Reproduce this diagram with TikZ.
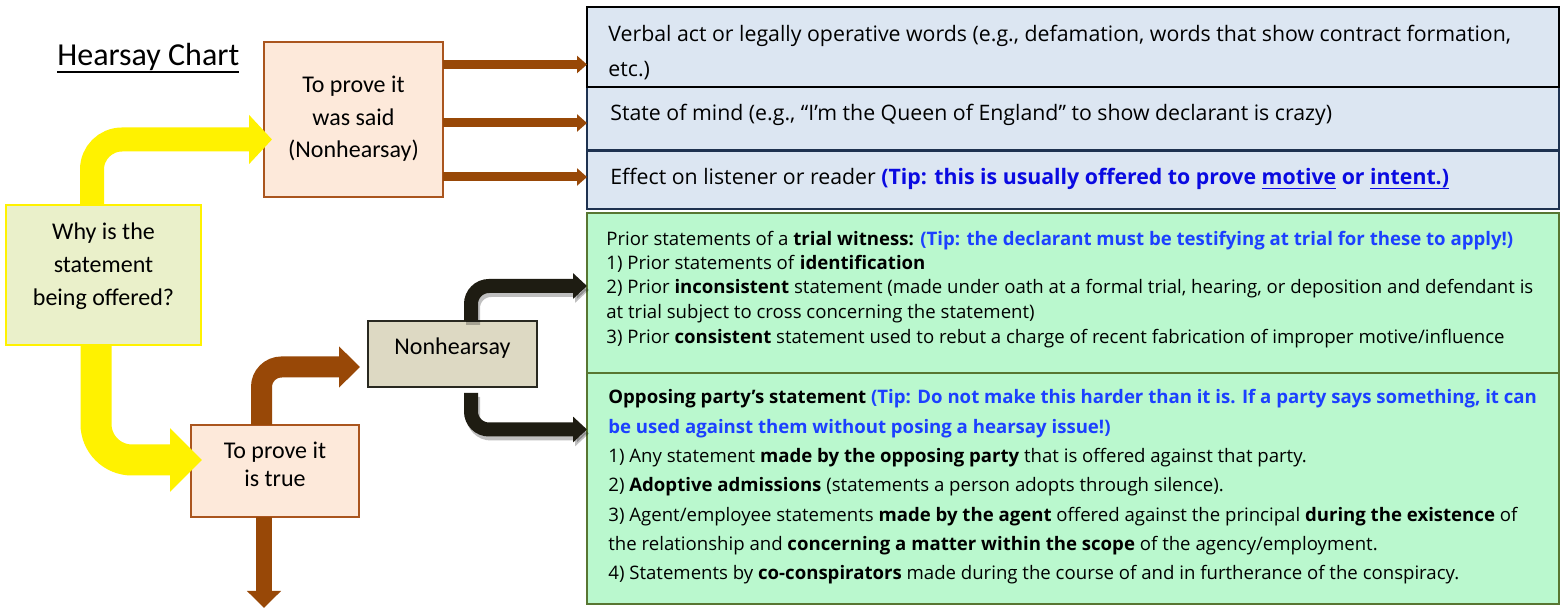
\documentclass[tikz,border=0pt]{standalone}
\usepackage{fontspec}
\setmainfont{Open Sans}
\newfontfamily\calfont{Carlito}
\usetikzlibrary{arrows.meta}
\definecolor{bluefill}{RGB}{220,230,242}
\definecolor{navyline}{RGB}{30,50,80}
\definecolor{greenfill}{RGB}{186,248,206}
\definecolor{greenline}{RGB}{88,118,50}
\definecolor{whyfill}{RGB}{234,240,202}
\definecolor{peachfill}{RGB}{253,233,218}
\definecolor{peachline}{RGB}{170,85,30}
\definecolor{brownarrow}{RGB}{152,72,7}
\definecolor{nhfill}{RGB}{221,217,195}
\definecolor{nhline}{RGB}{40,40,32}
\definecolor{blackarrow}{RGB}{30,28,18}
\definecolor{tipA}{RGB}{10,10,225}
\definecolor{tipB}{RGB}{28,64,255}
\newcommand{\myul}[3]{\leavevmode\setbox0=\hbox{#3}\rlap{\rule[-#1]{\wd0}{#2}}\box0\relax}
\newcommand{\fA}{\fontsize{10.65}{12}\selectfont}
\newcommand{\fB}{\fontsize{9.3}{11}\selectfont}
\newcommand{\fC}{\fontsize{9.3}{11}\selectfont}
\newcommand{\fK}{\calfont\fontsize{12}{14}\selectfont}
\begin{document}
\begin{tikzpicture}[x=0.5pt,y=-0.5pt,
  box/.style={rectangle, inner sep=0pt, outer sep=0pt},
  bluebox/.style={box, fill=bluefill, draw=navyline, line width=1pt},
  greenbox/.style={box, fill=greenfill, draw=greenline, line width=1.1pt},
  peachbox/.style={box, fill=peachfill, draw=peachline, line width=1pt},
  line/.style={inner sep=0pt, anchor=base west},
  cline/.style={inner sep=0pt, anchor=base, font=\fK},
  yarrow/.style={draw=yellow, rounded corners=15pt},
  brarrow/.style={draw=brownarrow},
  bkarrow/.style={draw=blackarrow, rounded corners=9pt},
  bkshadow/.style={draw=black, opacity=0.25, rounded corners=9pt, transform canvas={shift={(1pt,-2pt)}}}
]
\useasboundingbox (0,0) rectangle (1560,608);
\fill[white] (0,0) rectangle (1560,608);

% title
\node[inner sep=0pt, anchor=base west, font=\calfont\fontsize{16}{18}\selectfont] (title) at (57,66) {\myul{3.6pt}{1.25pt}{Hearsay Chart}};

% right boxes
\node[bluebox, minimum width=486pt, minimum height=31.5pt] (b2) at (1073,118.5) {};
\node[bluebox, minimum width=486pt, minimum height=29pt] (b3) at (1073,180) {};
\node[bluebox, draw=black, line width=1.4pt, minimum width=486pt, minimum height=40pt] (b1) at (1073,47) {};
\node[greenbox, minimum width=486pt, minimum height=80pt] (g1) at (1073,293) {};
\node[greenbox, minimum width=486pt, minimum height=115.5pt] (g2) at (1073,488.5) {};

% left boxes
\node[box, fill=whyfill, draw=yellow, line width=1.1pt, minimum width=97.5pt, minimum height=70pt] (why) at (103.5,275) {};
\node[peachbox, minimum width=89.5pt, minimum height=77.5pt] (said) at (353.5,119.5) {};
\node[peachbox, minimum width=84pt, minimum height=46pt] (true) at (275,471) {};
\node[box, fill=nhfill, draw=nhline, line width=1pt, minimum width=84.5pt, minimum height=33pt] (nh) at (452.5,354) {};

% centred texts
\node[cline] (why1) at (103.5,240) {Why is the};
\node[cline] (why2) at (103.5,273) {statement};
\node[cline] (why3) at (103.5,306) {being offered?};
\node[cline] (said1) at (353.5,93) {To prove it};
\node[cline] (said2) at (353.5,126) {was said};
\node[cline] (said3) at (353.5,158) {(Nonhearsay)};
\node[cline] (true1) at (275,459) {To prove it};
\node[cline] (true2) at (275,487) {is true};
\node[cline] (nh1) at (452.5,355) {Nonhearsay};

% arrows
\draw[yarrow, line width=12pt, -{Triangle[width=24pt,length=11.5pt]}]
  ([xshift=-5.75pt]why.north) |- ([xshift=4pt,yshift=-10pt]said.west);
\draw[yarrow, line width=15.5pt, rounded corners=18pt, -{Triangle[width=31pt,length=16pt]}]
  ([xshift=-3.75pt]why.south) |- ([xshift=5.5pt,yshift=5.5pt]true.west);
\draw[brarrow, line width=10.5pt, rounded corners=10pt, -{Triangle[width=20pt,length=10.5pt]}]
  ([xshift=-6.75pt]true.north) |- ([xshift=-4pt,yshift=-6.5pt]nh.west);
\coordinate (tdown) at (264,608);
\draw[brarrow, line width=8pt, -{Triangle[width=16.5pt,length=8.5pt]}]
  ([xshift=-5.5pt]true.south) -- (tdown);
\draw[brarrow, line width=4.5pt, -{Triangle[width=8.5pt,length=5pt]}]
  ([yshift=27.5pt]said.east) -- ([yshift=-8.75pt]b1.west);
\draw[brarrow, line width=4.5pt, -{Triangle[width=8.5pt,length=5pt]}]
  ([yshift=-1.75pt]said.east) -- ([yshift=-2.25pt]b2.west);
\draw[brarrow, line width=4.5pt, -{Triangle[width=8.5pt,length=5pt]}]
  ([yshift=-28.75pt]said.east) -- ([yshift=1.5pt]b3.west);
\draw[bkshadow, line width=7pt, -{Triangle[width=12.5pt,length=7pt]}]
  ([xshift=9.25pt]nh.north) |- ([yshift=3.5pt]g1.west);
\draw[bkarrow, line width=7pt, -{Triangle[width=12.5pt,length=7pt]}]
  ([xshift=9.25pt]nh.north) |- ([yshift=3.5pt]g1.west);
\draw[bkshadow, line width=7pt, -{Triangle[width=12.5pt,length=7pt]}]
  ([xshift=9.25pt,yshift=-3pt]nh.south) |- ([yshift=29.5pt]g2.west);
\draw[bkarrow, line width=7pt, -{Triangle[width=12.5pt,length=7pt]}]
  ([xshift=9.25pt,yshift=-3pt]nh.south) |- ([yshift=29.5pt]g2.west);

% blue box texts
\node[line, font=\fA] (b1a) at (608,42) {Verbal act or legally operative words (e.g., defamation, words that show contract formation,};
\node[line, font=\fA] (b1b) at (608,77) {etc.)};
\node[line, font=\fA] (b2a) at (610,121) {State of mind (e.g., “I’m the Queen of England” to show declarant is crazy)};
\node[line, font=\fA] (b3a) at (610,185) {Effect on listener or reader {\bfseries\color{tipA}(Tip: this is usually offered to prove \myul{1.9pt}{0.6pt}{motive} or \myul{1.9pt}{0.6pt}{intent.)}}};

% green box 1
\node[line, font=\fB] (g1a) at (606,246) {Prior statements of a \textbf{trial witness:} {\bfseries\color{tipB}(Tip: the declarant must be testifying at trial for these to apply!)}};
\node[line, font=\fB] (g1b) at (606,269.5) {1) Prior statements of \textbf{identification}};
\node[line, font=\fB] (g1c) at (606,294) {2) Prior \textbf{inconsistent} statement (made under oath at a formal trial, hearing, or deposition and defendant is};
\node[line, font=\fB] (g1d) at (606,318.5) {at trial subject to cross concerning the statement)};
\node[line, font=\fB] (g1e) at (606,344) {3) Prior \textbf{consistent} statement used to rebut a charge of recent fabrication of improper motive/influence};

% green box 2
\node[line, font=\fC] (g2a) at (608,404) {\textbf{Opposing party’s statement} {\bfseries\color{tipB}(Tip: Do not make this harder than it is. If a party says something, it can}};
\node[line, font=\fC] (g2b) at (608,433.3) {{\bfseries\color{tipB}be used against them without posing a hearsay issue!)}};
\node[line, font=\fC] (g2c) at (608,462.6) {1) Any statement \textbf{made by the opposing party} that is offered against that party.};
\node[line, font=\fC] (g2d) at (608,491.9) {2) \textbf{Adoptive admissions} (statements a person adopts through silence).};
\node[line, font=\fC] (g2e) at (608,521.2) {3) Agent/employee statements \textbf{made by the agent} offered against the principal \textbf{during the existence} of};
\node[line, font=\fC] (g2f) at (608,550.5) {the relationship and \textbf{concerning a matter within the scope} of the agency/employment.};
\node[line, font=\fC] (g2g) at (608,579.8) {4) Statements by \textbf{co-conspirators} made during the course of and in furtherance of the conspiracy.};
\end{tikzpicture}
\end{document}
